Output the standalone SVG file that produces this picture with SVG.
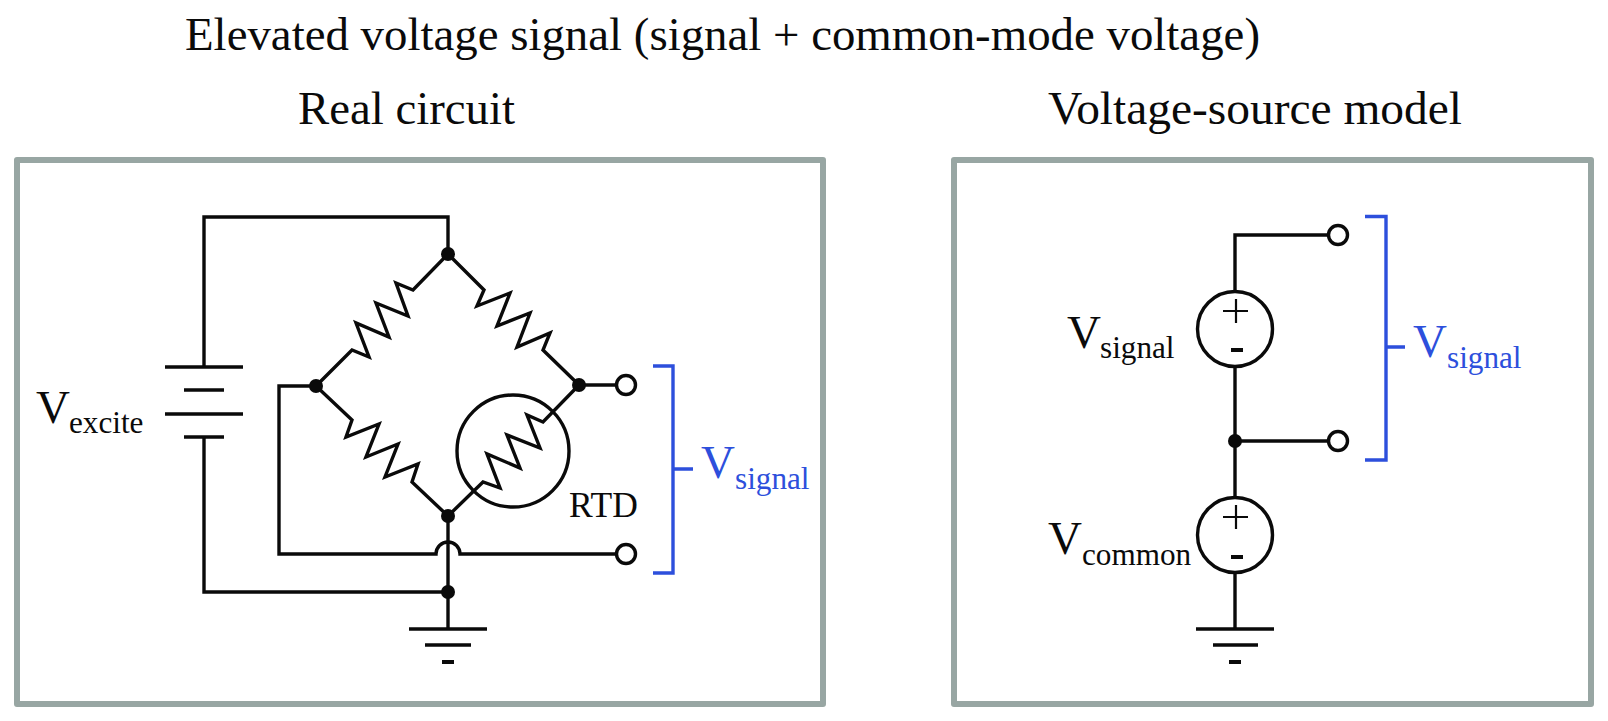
<svg xmlns="http://www.w3.org/2000/svg" width="1608" height="721" viewBox="0 0 1608 721">
<style>
text{font-family:"Liberation Serif","Times New Roman",serif;fill:#0a0a0a}
.t{font-size:47.4px}
.v{font-size:47px}
.s{font-size:31.2px}
.b{fill:#2d4fdc}
.frame{fill:none;stroke:#98a6a3;stroke-width:6;stroke-linejoin:round}
.w{fill:none;stroke:#0a0a0a;stroke-width:3.4;stroke-linejoin:miter}
.th{fill:none;stroke:#0a0a0a;stroke-width:2.2}
.m{fill:none;stroke:#0a0a0a;stroke-width:4}
.br{fill:none;stroke:#2d4fdc;stroke-width:3.4}
.dot{fill:#0a0a0a}
.term{fill:#fff;stroke:#0a0a0a;stroke-width:3.4}
</style>
<rect width="1608" height="721" fill="#fff"/>
<g id="titles">
<text class="t" x="185" y="50" textLength="1075" lengthAdjust="spacingAndGlyphs">Elevated voltage signal (signal + common-mode voltage)</text>
<text class="t" x="298" y="124" textLength="217" lengthAdjust="spacingAndGlyphs">Real circuit</text>
<text class="t" x="1048" y="124" textLength="414" lengthAdjust="spacingAndGlyphs">Voltage-source model</text>
</g>
<g id="frame-real"><rect class="frame" x="17" y="160" width="806" height="544"/></g>
<g id="frame-model"><rect class="frame" x="954" y="160" width="637" height="544"/></g>
<g id="connectors">
<path class="w" d="M204 367V217H448V254"/>
<path class="w" d="M204 437V592H448"/>
<path class="w" d="M316 386H279V554H436A12 12 0 0 1 460 554H616"/>
<path class="w" d="M448 516V629"/>
<path class="w" d="M579 385H616"/>
<path class="w" d="M1235 292V235H1328"/>
<path class="w" d="M1235 366V498"/>
<path class="w" d="M1235 441H1328"/>
<path class="w" d="M1235 572V629"/>
</g>
<g id="battery">
<path class="w" d="M165 367H243M184 390H224M165 414H243M184 437H224"/>
<text class="v" x="36" y="423">V</text><text class="s" x="69" y="433">excite</text>
</g>
<g id="r1"><path class="w" d="M316 386L352 350L369 357L356 323L389 337L376 303L408 316L396 283L413 290L448 254"/></g>
<g id="r2"><path class="w" d="M448 254L484 290L477 306L510 293L497 326L530 313L517 347L550 333L543 350L579 385"/></g>
<g id="r3"><path class="w" d="M316 386L352 420L346 437L379 424L366 457L398 444L385 477L418 464L412 482L448 516"/></g>
<g id="rtd">
<circle class="w" cx="513" cy="451" r="56"/>
<path class="w" d="M448 516L483 482L500 488L487 454L520 468L507 435L540 448L527 415L543 422L579 385"/>
<text x="569" y="517" font-size="35.5">RTD</text>
</g>
<g id="junctions">
<circle class="dot" cx="448" cy="254" r="7"/>
<circle class="dot" cx="316" cy="386" r="7"/>
<circle class="dot" cx="579" cy="385" r="7"/>
<circle class="dot" cx="448" cy="516" r="7"/>
<circle class="dot" cx="448" cy="592" r="7"/>
<circle class="dot" cx="1235" cy="441" r="7"/>
</g>
<g id="terminals">
<circle class="term" cx="626" cy="385" r="9.5"/>
<circle class="term" cx="626" cy="554" r="9.5"/>
<circle class="term" cx="1338" cy="235" r="9.5"/>
<circle class="term" cx="1338" cy="441" r="9.5"/>
</g>
<g id="ground-real"><path class="w" d="M409 629H487M425 645H471"/><path class="m" d="M442 662H454"/></g>
<g id="ground-model"><path class="w" d="M1196 629H1274M1213 645H1258"/><path class="m" d="M1229 662H1241"/></g>
<g id="bracket-real">
<path class="br" d="M653 366H673V573H653M673 469H693"/>
<text class="v b" x="701" y="478">V</text><text class="s b" x="735" y="489">signal</text>
</g>
<g id="bracket-model">
<path class="br" d="M1365 216.500H1386V460H1365M1386 347H1405"/>
<text class="v b" x="1413" y="357">V</text><text class="s b" x="1447" y="368">signal</text>
</g>
<g id="source-signal">
<circle class="w" cx="1235" cy="329" r="37.500"/>
<path class="th" d="M1223 311H1248M1236 299V323"/><path class="m" d="M1231 350H1243"/>
<text class="v" x="1067" y="348">V</text><text class="s" x="1100" y="358">signal</text>
</g>
<g id="source-common">
<circle class="w" cx="1235" cy="535" r="37.500"/>
<path class="th" d="M1223 517H1248M1236 505V529"/><path class="m" d="M1231 557H1243"/>
<text class="v" x="1048" y="554">V</text><text class="s" x="1082" y="565">common</text>
</g>
</svg>
